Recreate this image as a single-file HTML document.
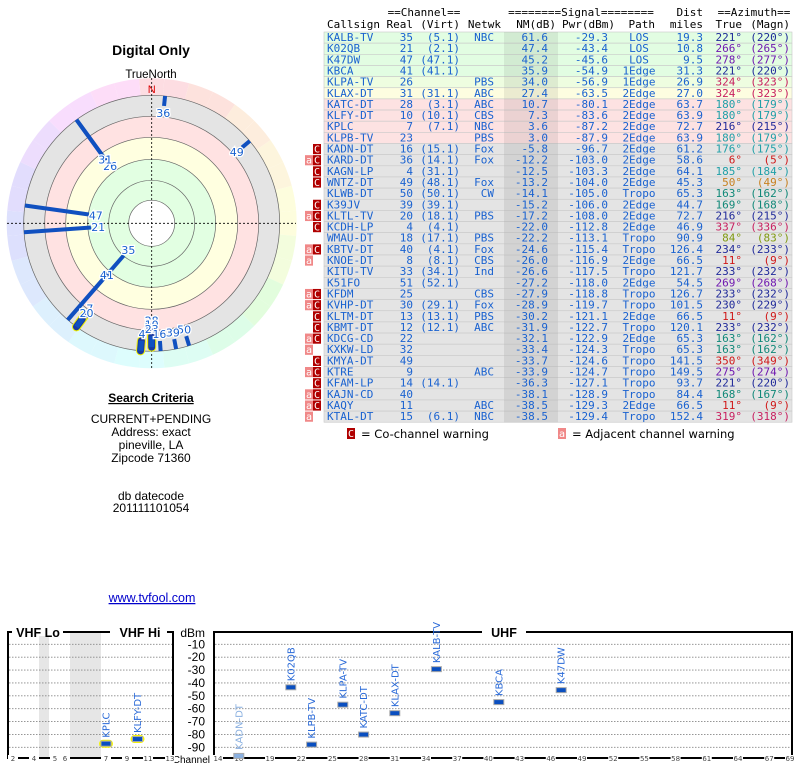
<!DOCTYPE html>
<html><head><meta charset="utf-8"><style>
body{margin:0;background:#fff;width:800px;height:768px;overflow:hidden}
svg{display:block}
.m{font-family:"DejaVu Sans Mono","Liberation Mono",monospace;font-size:11px}
.s{font-family:"Liberation Sans",sans-serif}
</style></head><body>
<svg id="svg" width="800" height="768" viewBox="0 0 800 768" xmlns="http://www.w3.org/2000/svg">
<g class="s">
<text x="151" y="55" text-anchor="middle" font-size="14" font-weight="bold">Digital Only</text>
<text x="151" y="78" text-anchor="middle" font-size="11.5">TrueNorth</text>
<text x="151" y="402" text-anchor="middle" font-size="12" font-weight="bold" text-decoration="underline">Search Criteria</text>
<text x="151" y="423" text-anchor="middle" font-size="12">CURRENT+PENDING</text>
<text x="151" y="436" text-anchor="middle" font-size="12">Address: exact</text>
<text x="151" y="449" text-anchor="middle" font-size="12">pineville, LA</text>
<text x="151" y="462" text-anchor="middle" font-size="12">Zipcode 71360</text>
<text x="151" y="500" text-anchor="middle" font-size="12">db datecode</text>
<text x="151" y="512" text-anchor="middle" font-size="12">201111101054</text>
<text x="152" y="602" text-anchor="middle" font-size="12.5" fill="#0000cc" text-decoration="underline">www.tvfool.com</text>
</g>
<g id="polar"></g>
<g id="table" class="m"></g>
<g id="spec"></g>
</svg>
<script>
const NS='http://www.w3.org/2000/svg';
function mk(p,tag,at,txt){const e=document.createElementNS(NS,tag);for(const k in at)e.setAttribute(k,at[k]);if(txt!==undefined)e.textContent=txt;p.appendChild(e);return e;}

/* ---------- polar data ---------- */
const polChans=[35,21,47,41,26,31,28,10,7,23,16,36,4,49,50,39,20];
const polAz=[221,266,278,221,324,324,180,180,216,180,176,6,185,50,163,169,216];
const polNM=[61.6,47.4,45.2,35.9,34.0,27.4,10.7,7.3,3.6,3.0,-5.8,-12.2,-12.5,-13.2,-14.1,-15.2,-17.2];
const polHL=[0,0,0,0,0,0,0,1,1,1,0,0,1,0,0,0,1];

const P=document.getElementById('polar');
const cx=151.7,cy=223.3;
function pt(r,az){const a=az*Math.PI/180;return [cx+r*Math.sin(a),cy-r*Math.cos(a)];}
const wheelHues=[350,10,30,45,60,80,110,140,160,180,190,205,220,235,250,270,290,310,330];
for(let i=0;i<36;i++){
  const a0=i*10-5,a1=i*10+5;
  const az=i*10;
  const lo=Math.floor(az/20);
  const hue=wheelHues[Math.min(lo,wheelHues.length-1)];
  const [x0,y0]=pt(145,a0),[x1,y1]=pt(145,a1);
  const w=mk(P,'path',{d:`M${cx},${cy}L${x0},${y0}A145,145 0 0 1 ${x1},${y1}Z`,fill:`hsl(${hue},90%,93%)`});
  
  
}
const bands=[[128,'#e4e4e4'],[107,'#ffe2e2'],[86,'#ffffe0'],[64,'#e2ffe2'],[23,'#ffffff']];
bands.forEach(b=>{const c=mk(P,'circle',{cx,cy,r:b[0],fill:b[1]});});
[128,107,86,64,43,23].forEach(r=>{const c=mk(P,'circle',{cx,cy,r,fill:'none',stroke:'#666','stroke-width':0.7});});
mk(P,'line',{x1:7,y1:cy,x2:296,y2:cy,stroke:'#000','stroke-width':0.8,'stroke-dasharray':'2,2'});
mk(P,'line',{x1:cx,y1:78,x2:cx,y2:368,stroke:'#000','stroke-width':0.8,'stroke-dasharray':'2,2'});
mk(P,'text',{x:cx,y:93,'text-anchor':'middle','font-size':11,fill:'#d00','font-family':'Liberation Sans,sans-serif'},'N');
function rIn(nm){if(nm>=27.4)return 42.6+(61.6-nm)*1.27;return Math.min(118,86+(27.4-nm)*1.1);}
polChans.forEach((ch,i)=>{
  const ri=rIn(polNM[i]);const ro=polNM[i]>20?128:Math.min(128,ri+11);
  const [x0,y0]=pt(ri,polAz[i]),[x1,y1]=pt(ro,polAz[i]);
  if(polHL[i]){const h=mk(P,'line',{x1:x0,y1:y0,x2:x1,y2:y1,stroke:'#f0f000','stroke-width':9,'stroke-linecap':'round'});
    
    mk(P,'line',{x1:x0,y1:y0,x2:x1,y2:y1,stroke:'#1a3aa0','stroke-width':7,'stroke-linecap':'round'});}
  const b=mk(P,'line',{x1:x0,y1:y0,x2:x1,y2:y1,stroke:'#1050c0','stroke-width':polHL[i]?5:4});
  
  
  const [lx,ly]=pt(ri-7,polAz[i]);
  const t=mk(P,'text',{x:lx,y:ly+4,'text-anchor':'middle','font-size':11,fill:'#1a62d0',stroke:'#fff','stroke-width':2.5,'paint-order':'stroke','font-family':'DejaVu Sans,sans-serif'},String(ch));
  
  
});

/* ---------- table data ---------- */
const tNames=['KALB-TV','K02QB','K47DW','KBCA','KLPA-TV','KLAX-DT','KATC-DT','KLFY-DT','KPLC','KLPB-TV','KADN-DT','KARD-DT','KAGN-LP','WNTZ-DT','KLWB-DT','K39JV','KLTL-TV','KCDH-LP','WMAU-DT','KBTV-DT','KNOE-DT','KITU-TV','K51FO','KFDM','KVHP-DT','KLTM-DT','KBMT-DT','KDCG-CD','KXKW-LD','KMYA-DT','KTRE','KFAM-LP','KAJN-CD','KAQY','KTAL-DT'];
const tReal=[35,21,47,41,26,31,28,10,7,23,16,36,4,49,50,39,20,4,18,40,8,33,51,25,30,13,12,22,32,49,9,14,40,11,15];
const tVirt=['(5.1)','(2.1)','(47.1)','(41.1)','','(31.1)','(3.1)','(10.1)','(7.1)','','(15.1)','(14.1)','(31.1)','(48.1)','(50.1)','(39.1)','(18.1)','(4.1)','(17.1)','(4.1)','(8.1)','(34.1)','(52.1)','','(29.1)','(13.1)','(12.1)','','','','','(14.1)','','','(6.1)'];
const tNet=['NBC','','','','PBS','ABC','ABC','CBS','NBC','PBS','Fox','Fox','','Fox','CW','','PBS','','PBS','Fox','CBS','Ind','','CBS','Fox','PBS','ABC','','','','ABC','','','ABC','NBC'];
const tNM=['61.6','47.4','45.2','35.9','34.0','27.4','10.7','7.3','3.6','3.0','-5.8','-12.2','-12.5','-13.2','-14.1','-15.2','-17.2','-22.0','-22.2','-24.6','-26.0','-26.6','-27.2','-27.9','-28.9','-30.2','-31.9','-32.1','-33.4','-33.7','-33.9','-36.3','-38.1','-38.5','-38.5'];
const tPwr=['-29.3','-43.4','-45.6','-54.9','-56.9','-63.5','-80.1','-83.6','-87.2','-87.9','-96.7','-103.0','-103.3','-104.0','-105.0','-106.0','-108.0','-112.8','-113.1','-115.4','-116.9','-117.5','-118.0','-118.8','-119.7','-121.1','-122.7','-122.9','-124.3','-124.6','-124.7','-127.1','-128.9','-129.3','-129.4'];
const tPath=['LOS','LOS','LOS','1Edge','1Edge','2Edge','2Edge','2Edge','2Edge','2Edge','2Edge','2Edge','2Edge','2Edge','Tropo','2Edge','2Edge','2Edge','Tropo','Tropo','2Edge','Tropo','2Edge','Tropo','Tropo','2Edge','Tropo','2Edge','Tropo','Tropo','Tropo','Tropo','Tropo','2Edge','Tropo'];
const tDist=['19.3','10.8','9.5','31.3','26.9','27.0','63.7','63.9','72.7','63.9','61.2','58.6','64.1','45.3','65.3','44.7','72.7','46.9','90.9','126.4','66.5','121.7','54.5','126.7','101.5','66.5','120.1','65.3','65.3','141.5','149.5','93.7','84.4','66.5','152.4'];
const tTrue=[221,266,278,221,324,324,180,180,216,180,176,6,185,50,163,169,216,337,84,234,11,233,269,233,230,11,233,163,163,350,275,221,168,11,319];
const tMagn=[220,265,277,220,323,323,179,179,215,179,175,5,184,49,162,168,215,336,83,233,9,232,268,232,229,9,232,162,162,349,274,220,167,9,318];
const tFlags=['','','','','','','','','','','C','aC','C','C','','C','aC','C','','aC','a','','','aC','aC','C','C','aC','a','C','aC','C','aC','aC','a'];

function azColor(a){
  if(a<25||a>=345)return '#d01818';
  if(a<65)return '#c88020';
  if(a<120)return '#809a10';
  if(a<172)return '#108878';
  if(a<200)return '#20a0a8';
  if(a<250)return '#202a9a';
  if(a<300)return '#7018b0';
  return '#c82060';
}
function rowBg(i){if(i<4)return '#e2fde2';if(i===4)return '#eefde0';if(i===5)return '#fdfde0';if(i<10)return '#fde2e2';return '#e4e4e4';}
const T=document.getElementById('table');
const blue='#1a62d0';
function hd(x,y,a,s,c,n){const t=mk(T,'text',{x,y,'text-anchor':a,fill:c||'#000'},s);return t;}
hd(424,16,'middle','==Channel==','#000','header-channel');
hd(581,16,'middle','========Signal========','#000','header-signal');
hd(703,16,'end','Dist','#000','header-dist');
hd(754,16,'middle','==Azimuth==','#000','header-azimuth');
[['Callsign',327,'start'],['Real',413,'end'],['(Virt)',460,'end'],['Netwk',501,'end'],['NM(dB)',556,'end'],['Pwr(dBm)',615,'end'],['Path',655,'end'],['miles',703,'end'],['True',742,'end'],['(Magn)',790,'end']].forEach(h=>hd(h[1],28,h[2],h[0],'#000','header-'+h[0].replace(/[()]/g,'').toLowerCase()));
const rh=11.15,top0=32;
tNames.forEach((n,i)=>{
  const y=top0+i*rh,by=y+9;
  const r=mk(T,'rect',{x:324,y:y,width:468,height:rh,fill:rowBg(i),stroke:'#c8c8c8','stroke-width':0.6});
  
  
  mk(T,'rect',{x:504,y:y,width:54,height:rh,fill:'rgba(0,0,0,0.07)'});
  const cells=[[327,'start',n],[413,'end',tReal[i]],[460,'end',tVirt[i]],[494,'end',tNet[i]],[548,'end',tNM[i]],[608,'end',tPwr[i]],[639,'middle',tPath[i]],[703,'end',tDist[i]]];
  cells.forEach(c=>mk(T,'text',{x:c[0],y:by,'text-anchor':c[1],fill:blue},String(c[2])));
  const ac=azColor(tTrue[i]);
  mk(T,'text',{x:742,y:by,'text-anchor':'end',fill:ac},tTrue[i]+'°');
  mk(T,'text',{x:790,y:by,'text-anchor':'end',fill:ac},'('+tMagn[i]+'°)');
  const f=tFlags[i];
  if(f.includes('C')){const c=mk(T,'rect',{x:313,y:y+0.5,width:8,height:rh-1,fill:'#b00000'});mk(T,'text',{x:317,y:by,'text-anchor':'middle',fill:'#fff','font-size':10},'C');}
  if(f.includes('a')){const c=mk(T,'rect',{x:305,y:y+0.5,width:8,height:rh-1,fill:'#f08888'});mk(T,'text',{x:309,y:by,'text-anchor':'middle',fill:'#fff','font-size':10},'a');}
});
mk(T,'rect',{x:347,y:428,width:8,height:11,fill:'#b00000'});
mk(T,'text',{x:351,y:437,'text-anchor':'middle',fill:'#fff','font-size':10},'C');
mk(T,'text',{x:361,y:438,'font-family':'DejaVu Sans,sans-serif','font-size':11.5},'= Co-channel warning');
mk(T,'rect',{x:558,y:428,width:8,height:11,fill:'#f08888'});
mk(T,'text',{x:562,y:437,'text-anchor':'middle',fill:'#fff','font-size':10},'a');
mk(T,'text',{x:572,y:438,'font-family':'DejaVu Sans,sans-serif','font-size':11.5},'= Adjacent channel warning');

/* ---------- spectrum chart data ---------- */
const sNames=['KPLC','KLFY-DT','KADN-DT','K02QB','KLPB-TV','KLPA-TV','KATC-DT','KLAX-DT','KALB-TV','KBCA','K47DW'];
const sChans=[7,10,16,21,23,26,28,31,35,41,47];
const sPwr=[-87.2,-83.6,-96.7,-43.4,-87.9,-56.9,-80.1,-63.5,-29.3,-54.9,-45.6];
const sHL=[1,1,0,0,0,0,0,0,0,0,0];
const dbTicks=[-10,-20,-30,-40,-50,-60,-70,-80,-90];
const vhfTicks=[2,4,5,6,7,9,11,13];
const uhfTicks=[14,16,19,22,25,28,31,34,37,40,43,46,49,52,55,58,61,64,67,69];

const S=document.getElementById('spec');
const yDb=d=>644.3+(-10-d)*1.2875;
const vhfPos={2:13,3:23.5,4:34,5:55,6:65,7:106,8:116.5,9:127,10:137.5,11:148,12:158.5,13:170};
const xCh=c=>c<14?vhfPos[c]:218+(c-14)*10.4;
function frame(x0,x1,n){
  const g=mk(S,'rect',{x:x0,y:632,width:x1-x0,height:126,fill:'none',stroke:'#000','stroke-width':2});
  
}
mk(S,'rect',{x:39,y:633,width:10,height:124,fill:'#e6e6e6'});
mk(S,'rect',{x:70,y:633,width:31,height:124,fill:'#e6e6e6'});
dbTicks.forEach(d=>{
  const y=yDb(d);
  mk(S,'line',{x1:9,y1:y,x2:172,y2:y,stroke:'#888','stroke-width':0.8,'stroke-dasharray':'1.5,1.5'});
  mk(S,'line',{x1:215,y1:y,x2:791,y2:y,stroke:'#888','stroke-width':0.8,'stroke-dasharray':'1.5,1.5'});
  const t=mk(S,'text',{x:205,y:y+4,'text-anchor':'end','font-size':12,'font-family':'Liberation Sans,sans-serif'},String(d));
  
});
frame(8,173,'vhf-frame');frame(214,792,'uhf-frame');
[[12,63,'VHF Lo',38],[110,167,'VHF Hi',140],[482,526,'UHF',504]].forEach(a=>{
  mk(S,'rect',{x:a[0],y:628,width:a[1]-a[0],height:8,fill:'#fff'});
  const t=mk(S,'text',{x:a[3],y:637,'text-anchor':'middle','font-size':12.5,'font-weight':'bold','font-family':'Liberation Sans,sans-serif'},a[2]);
  
});
const tb=mk(S,'text',{x:205,y:637,'text-anchor':'end','font-size':12,'font-family':'Liberation Sans,sans-serif'},'dBm');
const tc=mk(S,'text',{x:210,y:763,'text-anchor':'end','font-size':10,'font-family':'Liberation Sans,sans-serif'},'Channel');
vhfTicks.concat(uhfTicks).forEach(c=>{
  const x=xCh(c);
  mk(S,'rect',{x:x-5,y:755,width:10,height:7,fill:'#fff'});
  const t=mk(S,'text',{x,y:761,'text-anchor':'middle','font-size':7,fill:'#444','font-family':'DejaVu Sans,sans-serif'},String(c));
  
});
sChans.forEach((c,i)=>{
  const x=xCh(c),y=Math.min(yDb(sPwr[i]),757);
  const faint=sPwr[i]<-95;
  if(sHL[i]){mk(S,'rect',{x:x-7,y:y-4,width:14,height:8,rx:4,fill:'#f4f400'});}
  const m=mk(S,'rect',{x:x-5,y:y-2.5,width:10,height:5,fill:faint?'#8ab0e0':'#0a4fc0',stroke:'#aaa','stroke-width':1});
  
  
  const t=mk(S,'text',{x:x+3.5,y:y-6,transform:`rotate(-90 ${x+3.5} ${y-6})`,'font-size':10,fill:faint?'#8ab0e0':'#2a6ad8','font-family':'DejaVu Sans,sans-serif'},sNames[i]);
  
  
});
</script>
</body></html>
